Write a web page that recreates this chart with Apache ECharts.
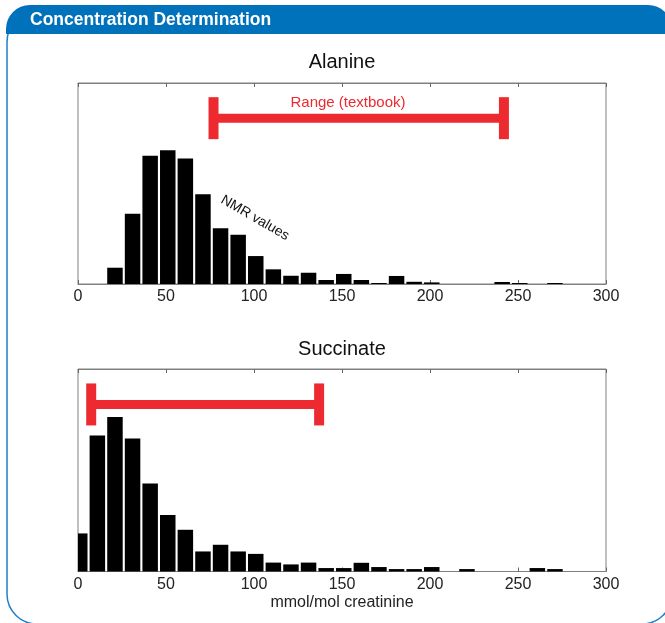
<!DOCTYPE html>
<html>
<head>
<meta charset="utf-8">
<title>Concentration Determination</title>
<script src="https://cdn.jsdelivr.net/npm/echarts@6/dist/echarts.min.js"></script>
<style>
  html, body { margin: 0; padding: 0; background: #fff; overflow: hidden; }
  #chart { width: 665px; height: 623px; }
</style>
</head>
<body>
<div id="chart"></div>
<script>
// bin centres (mmol/mol creatinine), shared by both histograms
const binCenters = [1, 11, 21, 31, 41, 51, 61, 71, 81, 91, 101, 111, 121, 131, 141,
  151, 161, 171, 181, 191, 201, 211, 221, 231, 241, 251, 261, 271];
const binWidth = 10;

// bar heights (relative counts, axis 0..100)
const alanineCounts = [0, 0, 8.1, 35.0, 63.8, 66.5, 62.5, 44.6, 27.7, 24.5, 13.9, 7.3, 4.1, 5.6, 2.0,
  5.0, 2.0, 0.5, 4.0, 1.1, 0.8, 0, 0, 0, 1.0, 0.5, 0, 0.5];
const succinateCounts = [18.8, 67.2, 76.3, 65.7, 43.5, 27.9, 20.6, 9.9, 13.2, 9.9, 8.7, 4.4, 3.5, 4.4, 1.7,
  1.7, 4.3, 2.2, 1.2, 1.2, 2.2, 0, 1.2, 0, 0, 0, 1.7, 1.2];

// textbook reference ranges [low, high] and the height they are drawn at
const alanineRange = [77, 242];
const succinateRange = [7.5, 137];
const rangeLevel = 82.5;

const xTicks = [0, 50, 100, 150, 200, 250, 300];

const RED = '#ec2a30';
const FONT = '"Liberation Sans", Arial, Helvetica, sans-serif';

const chart = echarts.init(document.getElementById('chart'), null, { renderer: 'canvas' });

// 直方图的柱子，裁剪到坐标区域内（第一根柱子会超出左边界）
function barItem(params, api) {
  const h = api.value(1);
  if (!h) return null;
  const base = api.coord([api.value(0), 0]);
  const top = api.coord([api.value(0), h]);
  const w = api.size([binWidth, 0])[0] * 0.88;
  const cs = params.coordSys;
  const rect = echarts.graphic.clipRectByRect(
    { x: base[0] - w / 2, y: top[1], width: w, height: base[1] - top[1] },
    { x: cs.x, y: cs.y, width: cs.width, height: cs.height }
  );
  return rect && { type: 'rect', shape: rect, style: { fill: '#000' } };
}

// 误差条：水平线 + 两端竖线
function rangeItem(params, api) {
  const p1 = api.coord([api.value(0), api.value(2)]);
  const p2 = api.coord([api.value(1), api.value(2)]);
  const style = { fill: RED };
  return {
    type: 'group',
    children: [
      { type: 'rect', shape: { x: p1[0], y: p1[1] - 4.5, width: p2[0] - p1[0], height: 9 }, style },
      { type: 'rect', shape: { x: p1[0] - 5, y: p1[1] - 21, width: 10, height: 42 }, style },
      { type: 'rect', shape: { x: p2[0] - 5, y: p2[1] - 21, width: 10, height: 42 }, style }
    ]
  };
}

function bottomAxis(gridIndex, name) {
  return {
    type: 'value', gridIndex, position: 'bottom',
    min: xTicks[0], max: xTicks[xTicks.length - 1], interval: 50,
    axisLine: { show: true, lineStyle: { color: '#808080', width: 1 } },
    axisTick: { show: true, inside: true, length: 4, lineStyle: { color: '#666' } },
    axisLabel: { margin: 5, fontSize: 16, color: '#222', fontFamily: FONT },
    splitLine: { show: false },
    name: name || '', nameLocation: 'middle', nameGap: 23,
    nameTextStyle: { fontSize: 16, color: '#222', fontFamily: FONT }
  };
}

function topAxis(gridIndex) {
  return {
    type: 'value', gridIndex, position: 'top',
    min: xTicks[0], max: xTicks[xTicks.length - 1], interval: 50,
    axisLine: { show: true, lineStyle: { color: '#808080', width: 1 } },
    axisTick: { show: true, inside: true, length: 4, lineStyle: { color: '#666' } },
    axisLabel: { show: false },
    splitLine: { show: false }
  };
}

function yAxis(gridIndex) {
  return {
    type: 'value', gridIndex, min: 0, max: 100,
    axisLine: { show: false }, axisTick: { show: false },
    axisLabel: { show: false }, splitLine: { show: false }
  };
}

const option = {
  backgroundColor: '#fff',
  animation: false,
  grid: [
    { left: 78, width: 528, top: 83, height: 201, show: true, borderColor: '#808080', borderWidth: 1, backgroundColor: 'transparent' },
    { left: 78, width: 528, top: 369, height: 202.5, show: true, borderColor: '#808080', borderWidth: 1, backgroundColor: 'transparent' }
  ],
  xAxis: [bottomAxis(0), topAxis(0), bottomAxis(1, 'mmol/mol creatinine'), topAxis(1)],
  yAxis: [yAxis(0), yAxis(1)],
  series: [
    {
      name: 'Alanine', type: 'custom', xAxisIndex: 0, yAxisIndex: 0, renderItem: barItem,
      data: binCenters.map((x, i) => [x, alanineCounts[i]]), encode: { x: 0, y: 1 }
    },
    {
      name: 'Succinate', type: 'custom', xAxisIndex: 2, yAxisIndex: 1, renderItem: barItem,
      data: binCenters.map((x, i) => [x, succinateCounts[i]]), encode: { x: 0, y: 1 }
    },
    {
      type: 'custom', xAxisIndex: 0, yAxisIndex: 0, renderItem: rangeItem,
      data: [[alanineRange[0], alanineRange[1], rangeLevel]], encode: { x: [0, 1], y: 2 }, z: 5
    },
    {
      type: 'custom', xAxisIndex: 2, yAxisIndex: 1, renderItem: rangeItem,
      data: [[succinateRange[0], succinateRange[1], rangeLevel]], encode: { x: [0, 1], y: 2 }, z: 5
    }
  ],
  graphic: [
    // 外框（右边缘在画面之外）
    {
      type: 'rect', z: 0,
      shape: { x: 7, y: 12, width: 665, height: 612, r: 30 },
      style: { fill: 'none', stroke: '#1f7fc9', lineWidth: 1.5 }
    },
    // 标题栏
    {
      type: 'rect', z: 1,
      shape: { x: 6, y: 5, width: 666, height: 29, r: [24, 24, 0, 0] },
      style: { fill: '#0071bb' }
    },
    {
      type: 'text', z: 2, x: 30, y: 20.5,
      style: {
        text: 'Concentration Determination', fill: '#fff',
        font: 'bold 17.5px "Liberation Sans", Arial, sans-serif',
        align: 'left', verticalAlign: 'middle'
      }
    },
    {
      type: 'text', x: 342, y: 62,
      style: { text: 'Alanine', fill: '#111', font: '20px ' + FONT, align: 'center', verticalAlign: 'middle' }
    },
    {
      type: 'text', x: 342, y: 349,
      style: { text: 'Succinate', fill: '#111', font: '20px ' + FONT, align: 'center', verticalAlign: 'middle' }
    },
    {
      type: 'text', x: 348, y: 103,
      style: { text: 'Range (textbook)', fill: RED, font: '15px ' + FONT, align: 'center', verticalAlign: 'middle' }
    },
    {
      type: 'text', x: 255, y: 218, rotation: -30 * Math.PI / 180,
      style: { text: 'NMR values', fill: '#111', font: '14px ' + FONT, align: 'center', verticalAlign: 'middle' }
    }
  ]
};

chart.setOption(option);
</script>
</body>
</html>
